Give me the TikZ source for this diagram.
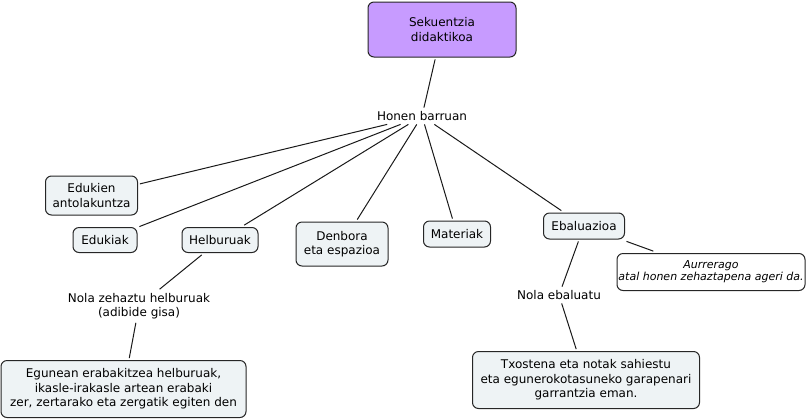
\documentclass[tikz,border=0pt]{standalone}
\usepackage{fontspec}
\setmainfont{DejaVu Sans}
\definecolor{boxfill}{HTML}{EEF3F5}
\definecolor{rootfill}{HTML}{C79BFF}
\begin{document}
\begin{tikzpicture}[x=0.75pt,y=-0.75pt,
  box/.style={draw=black!85,line width=0.75pt,rounded corners=4.5pt,fill=boxfill,
    inner sep=0pt,outer sep=1.8pt,align=center,font=\fontsize{9}{10.9}\selectfont},
  lbl/.style={inner sep=1pt,outer sep=1.8pt,align=center,font=\fontsize{9}{10.9}\selectfont},
  link/.style={line width=0.75pt,draw=black!90}]
\useasboundingbox (0,0) rectangle (807,419);
\node[box,fill=rootfill,minimum width=111pt,minimum height=41.25pt] (root) at (442,29.5) {Sekuentzia\\didaktikoa};
\node[lbl] (hb) at (422,116) {Honen barruan};
\node[box,minimum width=69pt,minimum height=29.25pt] (e1) at (91.5,195.5) {Edukien\\antolakuntza};
\node[box,minimum width=48pt,minimum height=18.75pt] (e2) at (105,240) {Edukiak};
\node[box,minimum width=57pt,minimum height=18.75pt] (e3) at (220,240) {Helburuak};
\node[box,minimum width=69pt,minimum height=33pt] (e4) at (342,244) {Denbora\\eta espazioa};
\node[box,minimum width=50.25pt,minimum height=19.5pt] (e5) at (457,234) {Materiak};
\node[box,minimum width=60.75pt,minimum height=19.5pt] (e6) at (584,226) {Ebaluazioa};
\node[box,fill=white,minimum width=141pt,minimum height=27.75pt,font=\fontsize{8.25}{9}\selectfont\itshape] (aur) at (711,272) {Aurrerago\\atal honen zehaztapena ageri da.};
\node[lbl] (nz) at (139,306) {Nola zehaztu helburuak\\(adibide gisa)};
\node[box,minimum width=183.75pt,minimum height=42.75pt] (b1) at (123.5,389) {Egunean erabakitzea helburuak,\\ikasle-irakasle artean erabaki\\zer, zertarako eta zergatik egiten den};
\node[lbl] (ne) at (559,295) {Nola ebaluatu};
\node[box,minimum width=170.25pt,minimum height=42.75pt] (b2) at (586,380) {Txostena eta notak sahiestu\\eta egunerokotasuneko garapenari\\garrantzia eman.};
\draw[link] (root) -- (hb);
\foreach \t in {e1,e2,e3,e4,e5,e6} \draw[link] (hb) -- (\t);
\draw[link] (e3) -- (nz);
\draw[link] (nz) -- (b1);
\draw[link] (e6) -- (ne);
\draw[link] (ne) -- (b2);
\draw[link] (e6) -- (aur);
\end{tikzpicture}
\end{document}
